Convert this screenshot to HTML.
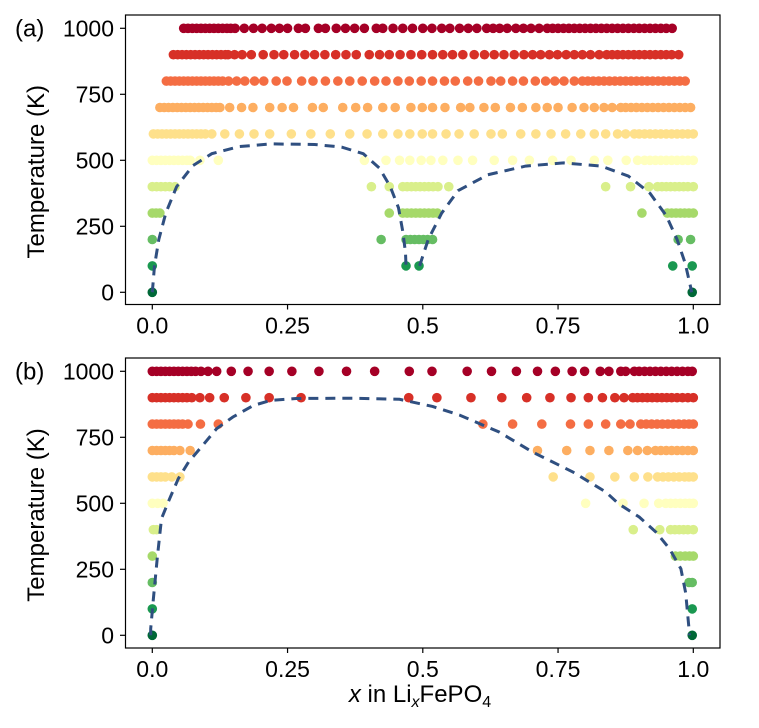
<!DOCTYPE html>
<html><head><meta charset="utf-8"><style>
html,body{margin:0;padding:0;background:#fff;}
svg text{font-family:"Liberation Sans",Arial,sans-serif;fill:#000;}
</style></head><body>
<svg id="chart" width="759" height="723" viewBox="0 0 759 723" xmlns="http://www.w3.org/2000/svg"></svg>
<script>
const temps=[1000,900,800,700,600,500,400,300,200,100,0];
const colors=["#a50026","#d73027","#f46d43","#fdae61","#fee08b","#ffffbf","#d9ef8b","#a6d96a","#66bd63","#1a9850","#006837"];
const xTicks=[0,0.25,0.5,0.75,1.0];
const xTickLabels=["0.0","0.25","0.5","0.75","1.0"];
const yTicks=[0,250,500,750,1000];
const yTickLabels=["0","250","500","750","1000"];

// Panel (a) rows
const a1000=[0.058,0.066,0.074,0.082,0.09,0.098,0.106,0.114,0.122,0.13,0.138,0.145,0.153,0.17,0.187,0.203,0.22,0.235,0.25,0.27,0.283,0.307,0.32,0.34,0.357,0.374,0.392,0.414,0.426,0.445,0.463,0.481,0.5,0.517,0.535,0.55,0.568,0.584,0.6,0.618,0.63,0.642,0.656,0.672,0.686,0.7,0.715,0.73,0.74,0.75,0.76,0.77,0.78,0.79,0.8,0.81,0.82,0.83,0.84,0.85,0.86,0.87,0.88,0.89,0.9,0.91,0.92,0.93,0.94,0.95,0.961];
const a900=[0.039,0.047,0.055,0.063,0.071,0.079,0.087,0.095,0.103,0.111,0.119,0.127,0.135,0.14,0.152,0.166,0.183,0.205,0.225,0.243,0.263,0.282,0.3,0.319,0.339,0.358,0.377,0.401,0.42,0.438,0.458,0.478,0.498,0.518,0.537,0.555,0.574,0.595,0.614,0.632,0.65,0.669,0.687,0.703,0.718,0.734,0.749,0.765,0.78,0.795,0.81,0.826,0.84,0.85,0.86,0.87,0.88,0.89,0.9,0.91,0.92,0.93,0.94,0.95,0.96,0.973];
const a800=[0.026,0.034,0.042,0.05,0.058,0.066,0.074,0.082,0.09,0.098,0.106,0.114,0.122,0.13,0.141,0.156,0.171,0.189,0.206,0.229,0.249,0.276,0.297,0.32,0.343,0.365,0.388,0.411,0.432,0.454,0.475,0.497,0.518,0.54,0.56,0.583,0.603,0.626,0.644,0.666,0.686,0.708,0.727,0.744,0.761,0.78,0.795,0.805,0.815,0.825,0.835,0.845,0.855,0.865,0.875,0.885,0.895,0.905,0.915,0.925,0.935,0.945,0.955,0.965,0.975,0.985];
const a700=[0.014,0.022,0.03,0.038,0.046,0.054,0.062,0.07,0.078,0.086,0.094,0.102,0.11,0.118,0.125,0.143,0.165,0.186,0.217,0.24,0.261,0.296,0.316,0.352,0.376,0.398,0.426,0.449,0.478,0.499,0.518,0.541,0.57,0.587,0.613,0.634,0.662,0.684,0.709,0.73,0.75,0.776,0.798,0.817,0.835,0.85,0.866,0.875,0.885,0.895,0.905,0.915,0.925,0.935,0.945,0.955,0.965,0.975,0.985,0.995];
const a600=[0.002,0.01,0.018,0.026,0.034,0.042,0.05,0.058,0.066,0.074,0.082,0.09,0.098,0.11,0.134,0.161,0.188,0.217,0.257,0.293,0.329,0.365,0.397,0.426,0.454,0.476,0.499,0.518,0.543,0.567,0.595,0.626,0.647,0.681,0.709,0.737,0.764,0.792,0.817,0.838,0.86,0.875,0.891,0.9,0.91,0.92,0.93,0.94,0.95,0.96,0.97,0.98,0.99,1.0];
const a500=[0.0,0.008,0.016,0.024,0.032,0.04,0.048,0.056,0.064,0.07,0.088,0.122,0.392,0.432,0.457,0.476,0.497,0.515,0.537,0.565,0.592,0.632,0.666,0.697,0.74,0.774,0.817,0.842,0.876,0.897,0.91,0.92,0.93,0.94,0.95,0.96,0.97,0.98,0.99,1.0];
const a400=[0.0,0.008,0.016,0.024,0.032,0.042,0.405,0.438,0.463,0.471,0.479,0.487,0.495,0.503,0.511,0.519,0.528,0.548,0.838,0.884,0.918,0.934,0.942,0.95,0.958,0.966,0.974,0.982,0.99,1.0];
const a300=[0.0,0.007,0.014,0.438,0.463,0.471,0.479,0.487,0.495,0.503,0.511,0.519,0.527,0.905,0.952,0.96,0.968,0.976,0.984,0.992,1.0];
const a200=[0.0,0.423,0.469,0.477,0.485,0.493,0.501,0.509,0.518,0.972,0.995];
const a100=[0.0,0.469,0.493,0.962,0.998];
const a0=[0.0,0.998];
const rowsA=[a1000,a900,a800,a700,a600,a500,a400,a300,a200,a100,a0];
const curveA1=[[0,0],[0.004,100],[0.012,200],[0.025,300],[0.045,400],[0.075,480],[0.11,525],[0.16,552],[0.22,562],[0.3,560],[0.35,550],[0.39,525],[0.42,470],[0.44,400],[0.455,320],[0.463,230],[0.468,150],[0.469,100]];
const curveA2=[[0.494,100],[0.51,200],[0.535,300],[0.565,385],[0.62,445],[0.69,478],[0.76,490],[0.83,478],[0.88,440],[0.92,375],[0.95,290],[0.97,200],[0.985,110],[0.995,20],[0.997,0]];

// Panel (b) rows
const b1000=[0.0,0.008,0.016,0.024,0.032,0.04,0.048,0.056,0.064,0.072,0.08,0.09,0.103,0.119,0.146,0.177,0.216,0.258,0.308,0.359,0.411,0.475,0.517,0.582,0.627,0.673,0.712,0.745,0.776,0.799,0.828,0.844,0.866,0.875,0.891,0.9,0.91,0.92,0.93,0.94,0.95,0.96,0.97,0.98,0.99,0.998];
const b900=[0.0,0.008,0.016,0.024,0.032,0.04,0.048,0.056,0.064,0.073,0.088,0.106,0.133,0.173,0.216,0.275,0.474,0.526,0.589,0.646,0.692,0.735,0.774,0.806,0.832,0.855,0.872,0.888,0.897,0.906,0.915,0.924,0.933,0.942,0.951,0.96,0.97,0.98,0.99,1.0];
const b800=[0.0,0.008,0.016,0.024,0.032,0.04,0.048,0.056,0.066,0.089,0.122,0.611,0.666,0.72,0.773,0.806,0.838,0.866,0.883,0.903,0.913,0.923,0.933,0.943,0.953,0.963,0.973,0.983,0.992,1.0];
const b700=[0.0,0.008,0.016,0.024,0.032,0.04,0.051,0.07,0.712,0.766,0.809,0.844,0.879,0.897,0.915,0.93,0.94,0.95,0.96,0.97,0.98,0.99,1.0];
const b600=[0.0,0.008,0.016,0.024,0.036,0.051,0.741,0.809,0.855,0.891,0.916,0.934,0.944,0.954,0.964,0.974,0.984,0.992,1.0];
const b500=[0.0,0.01,0.02,0.801,0.87,0.909,0.936,0.949,0.958,0.967,0.976,0.985,0.993,1.0];
const b400=[0.002,0.008,0.889,0.938,0.958,0.966,0.974,0.982,0.99,1.0];
const b300=[0.0,0.967,0.976,0.985,0.993,1.0];
const b200=[0.0,0.992,0.998];
const b100=[0.0,0.998];
const b0=[0.0,0.998];
const rowsB=[b1000,b900,b800,b700,b600,b500,b400,b300,b200,b100,b0];
const curveB=[[-0.003,0],[-0.003,25],[0.002,139],[0.009,290],[0.017,442],[0.032,517],[0.048,593],[0.067,656],[0.088,707],[0.119,783],[0.149,827],[0.187,871],[0.22,890],[0.266,897],[0.371,898],[0.457,894],[0.518,867],[0.568,834],[0.641,770],[0.703,694],[0.777,619],[0.838,543],[0.862,498],[0.9,448],[0.931,391],[0.956,328],[0.977,252],[0.986,160],[0.992,25],[0.993,0]];

const NS="http://www.w3.org/2000/svg";
const svg=document.getElementById('chart');
function mk(tag,attrs,parent){const e=document.createElementNS(NS,tag);for(const k in attrs)e.setAttribute(k,attrs[k]);(parent||svg).appendChild(e);return e;}
const X0=152.3,X1=693.3;
function sx(v){return X0+(X1-X0)*v;}

function panel(name,label,boxTop,boxBot,y0,y1000,rows,curves){
  const sy=t=>y0+(y1000-y0)*t/1000;
  const g=mk('g',{});
  
  
  const frame=mk('rect',{x:125.5,y:boxTop,width:594.5,height:boxBot-boxTop,fill:'none',stroke:'#000','stroke-width':1.2},g);
  
  
  const pts=mk('g',{},g);
  
  
  rows.forEach((row,i)=>{
    row.forEach(v=>{
      const c=mk('circle',{cx:sx(v),cy:sy(temps[i]),r:4.8,fill:colors[i]},pts);
      
      
    });
  });
  curves.forEach(cv=>{
    const d=cv.map((p,j)=>(j?'L':'M')+sx(p[0]).toFixed(1)+' '+sy(p[1]).toFixed(1)).join(' ');
    const path=mk('path',{d:d,fill:'none',stroke:'#2f4f80','stroke-width':3,'stroke-dasharray':'10 7'},g);
    
    
  });
  yTicks.forEach((t,i)=>{
    const l=mk('line',{x1:120,x2:125.5,y1:sy(t),y2:sy(t),stroke:'#000','stroke-width':1.2},g);
    
    
    const tx=mk('text',{x:114,y:sy(t)+8,'font-size':23,'text-anchor':'end'},g);
    tx.textContent=yTickLabels[i];
    
    
  });
  xTicks.forEach((v,i)=>{
    const l=mk('line',{x1:sx(v),x2:sx(v),y1:boxBot,y2:boxBot+5,stroke:'#000','stroke-width':1.2},g);
    
    
    const tx=mk('text',{x:sx(v),y:boxBot+29,'font-size':23,'text-anchor':'middle'},g);
    tx.textContent=xTickLabels[i];
    
    
  });
  const yt=mk('text',{x:0,y:0,'font-size':24,'text-anchor':'middle',transform:'translate(44,'+((boxTop+boxBot)/2+12)+') rotate(-90)'},g);
  yt.textContent='Temperature (K)';
  
  
  const pl=mk('text',{x:15,y:y1000+8,'font-size':24},g);
  pl.textContent=label;
  
  
}
panel('panel-a','(a)',15,304.5,292.3,28.3,rowsA,[curveA1,curveA2]);
panel('panel-b','(b)',358,648,635.3,371.3,rowsB,[curveB]);

const xt=mk('text',{x:420,y:702,'font-size':24,'text-anchor':'middle'});


xt.innerHTML='<tspan font-style="italic">x</tspan> in Li<tspan font-style="italic" font-size="16" dy="5">x</tspan><tspan dy="-5">FePO</tspan><tspan font-size="16" dy="5">4</tspan>';
</script>
</body></html>
